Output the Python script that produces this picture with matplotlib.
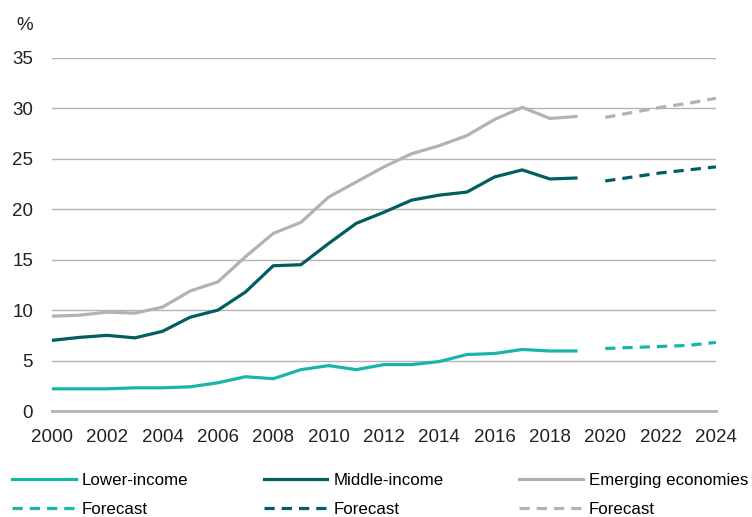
import matplotlib.pyplot as plt
from matplotlib.lines import Line2D

plt.rcParams['font.family'] = ['Liberation Sans', 'DejaVu Sans']

years = list(range(2000, 2020))
fc_years = list(range(2020, 2025))

lower = [2.2, 2.2, 2.2, 2.3, 2.3, 2.4, 2.8, 3.4, 3.2, 4.1,
         4.5, 4.1, 4.6, 4.6, 4.9, 5.6, 5.7, 6.1, 5.95, 5.95]
middle = [7.0, 7.3, 7.5, 7.25, 7.9, 9.3, 10.0, 11.8, 14.4, 14.5,
          16.6, 18.6, 19.7, 20.9, 21.4, 21.7, 23.2, 23.9, 23.0, 23.1]
emerging = [9.4, 9.5, 9.8, 9.7, 10.3, 11.9, 12.8, 15.3, 17.6, 18.7,
            21.2, 22.7, 24.2, 25.5, 26.3, 27.3, 28.9, 30.1, 29.0, 29.2]

lower_fc = [6.2, 6.3, 6.4, 6.5, 6.8]
middle_fc = [22.8, 23.2, 23.6, 23.9, 24.2]
emerging_fc = [29.1, 29.6, 30.1, 30.5, 31.0]

c_low = '#17b5aa'
c_mid = '#005d60'
c_emg = '#b2b2b2'
lw = 2.3
dash = (0, (3.2, 2.2))

fig = plt.figure(figsize=(7.52, 5.17), dpi=100)
ax = fig.add_axes([0.069, 0.205, 0.883, 0.683])

ax.plot(years, emerging, color=c_emg, lw=lw, solid_capstyle='butt')
ax.plot(years, middle, color=c_mid, lw=lw, solid_capstyle='butt')
ax.plot(years, lower, color=c_low, lw=lw, solid_capstyle='butt')
ax.plot(fc_years, emerging_fc, color=c_emg, lw=lw, linestyle=dash)
ax.plot(fc_years, middle_fc, color=c_mid, lw=lw, linestyle=dash)
ax.plot(fc_years, lower_fc, color=c_low, lw=lw, linestyle=dash)

ax.set_xlim(2000, 2024)
ax.set_ylim(0, 35)
ax.set_xticks(range(2000, 2025, 2))
ax.set_yticks(range(0, 36, 5))
ax.grid(axis='y', color='#b4b4b4', lw=1)
ax.set_axisbelow(True)
for s in ['top', 'right', 'left']:
    ax.spines[s].set_visible(False)
ax.spines['bottom'].set_color('#b4b4b4')
ax.spines['bottom'].set_linewidth(2)
ax.tick_params(length=0, labelsize=13.5, colors='#222222')
ax.tick_params(axis='y', pad=13.5)
ax.tick_params(axis='x', pad=13)
for ln in ax.lines:
    ln.set_clip_on(False)

fig.text(0.022, 0.968, '%', fontsize=13.5, color='#222222', va='top')

handles = [
    Line2D([], [], color=c_low, lw=lw),
    Line2D([], [], color=c_low, lw=lw, linestyle=dash),
    Line2D([], [], color=c_mid, lw=lw),
    Line2D([], [], color=c_mid, lw=lw, linestyle=dash),
    Line2D([], [], color=c_emg, lw=lw),
    Line2D([], [], color=c_emg, lw=lw, linestyle=dash),
]
labels = ['Lower-income', 'Forecast', 'Middle-income', 'Forecast',
          'Emerging economies', 'Forecast']
fig.legend(handles, labels, ncol=3, loc='lower left',
           bbox_to_anchor=(0.003, -0.019), frameon=False, fontsize=12.2,
           handlelength=3.75, handletextpad=0.35, columnspacing=4.45,
           labelspacing=0.8, borderaxespad=0.2)

fig.savefig('out.png', dpi=100)
